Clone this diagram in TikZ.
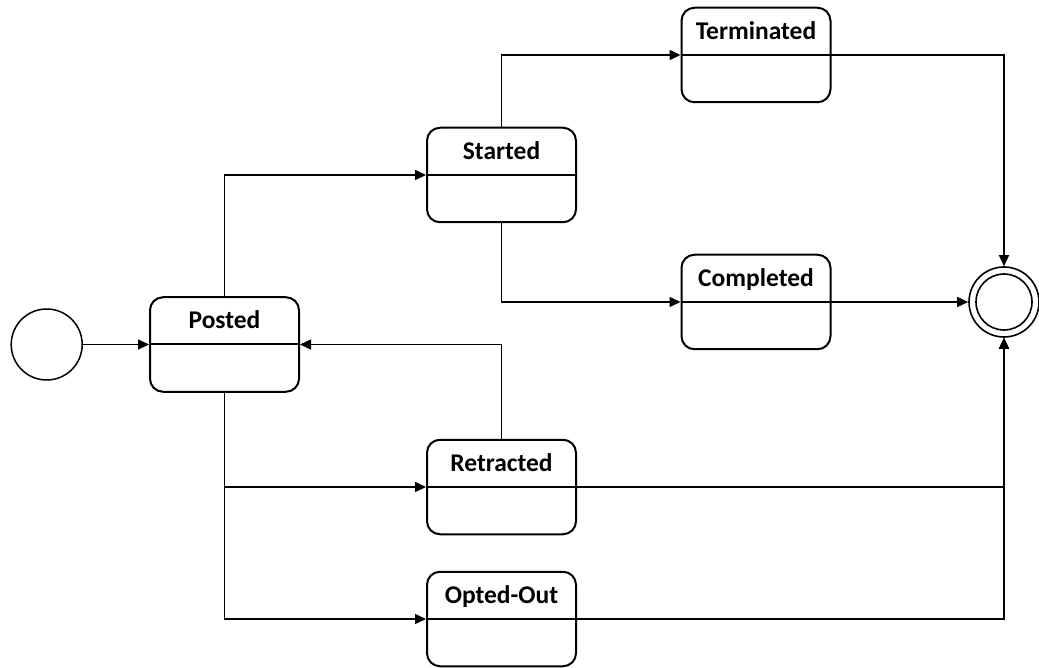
\documentclass[tikz,border=0pt]{standalone}
\usepackage{fontspec}
\setmainfont{Carlito}
\usetikzlibrary{arrows.meta}

\begin{document}
\begin{tikzpicture}[x=1pt,y=-1pt,
  statebox/.style={draw, line width=2pt, rounded corners=13pt,
    minimum width=149pt, minimum height=94.5pt, inner sep=0pt},
  statename/.style={anchor=base, font=\fontsize{25.5}{30}\selectfont\bfseries, inner sep=0pt},
  divider/.style={line width=2pt},
  flow/.style={line width=1.5pt, -{Triangle[length=11pt,width=10pt]}},
  initstate/.style={draw, circle, line width=1.5pt, minimum size=71pt, inner sep=0pt},
  finalstate/.style={draw, circle, line width=1.6pt, minimum size=70pt, inner sep=0pt},
  finalinner/.style={draw, circle, line width=1.6pt, minimum size=56pt, inner sep=0pt}
]
\useasboundingbox (0,0) rectangle (1039,668);

% states with a name compartment above the divider
\newcommand{\umlstate}[3]{%
  \node[statebox] (#1) at (#2) {};
  \draw[divider] (#1.west) -- (#1.east);
  \node[statename] (#1-name) at ([yshift=15.5pt]#1.center) {#3};
}

\umlstate{posted}{224.5,344.5}{Posted}
\umlstate{started}{501.5,175}{Started}
\umlstate{terminated}{756,55}{Terminated}
\umlstate{completed}{756,302}{Completed}
\umlstate{retracted}{501.5,487}{Retracted}
\umlstate{optedout}{501.5,619}{Opted-Out}

% pseudo-states
\node[initstate] (init) at (46.7,344.5) {};
\node[finalstate] (final) at (1004,302) {};
\node[finalinner] (finalcore) at (final.center) {};

% transitions
\draw[flow] (init.east) -- (posted.west);
\draw[flow] (posted.north) |- (started.west);
\draw[flow] (started.north) |- (terminated.west);
\draw[flow] (started.south) |- (completed.west);
\draw[flow] (terminated.east) -| (final.north);
\draw[flow] (completed.east) -- (final.west);
\draw[flow] (retracted.north) |- (posted.east);
\draw[flow] (posted.south) |- (retracted.west);
\draw[flow] (posted.south) |- (optedout.west);
\draw[flow] (retracted.east) -| (final.south);
\draw[flow] (optedout.east) -| (final.south);
\end{tikzpicture}
\end{document}
